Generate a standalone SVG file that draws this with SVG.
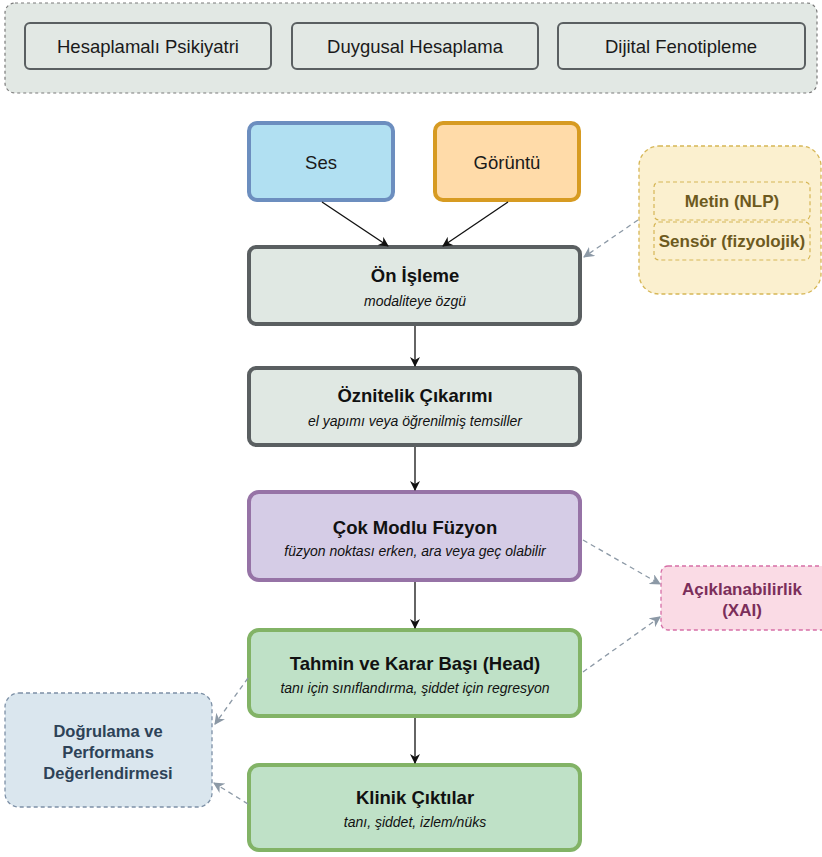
<svg xmlns="http://www.w3.org/2000/svg" width="822" height="857" viewBox="0 0 822 857">
<style>
text{font-family:"Liberation Sans",Arial,sans-serif;text-anchor:middle;dominant-baseline:central}
.t16{font-size:18.5px;fill:#1a1a1a}
.b16{font-size:18.5px;font-weight:bold;fill:#111}
.i12{font-size:14px;font-style:italic;fill:#111}
.main{stroke-width:4}
.flow{stroke:#111;stroke-width:1.3;fill:none}
.dash{stroke:#8c99a6;stroke-width:1.3;fill:none;stroke-dasharray:5 4}
.yl{font-size:17px;font-weight:bold;fill:#6d5a1e}
.pk{font-size:17px;font-weight:bold;fill:#7b2e5a}
.bl{font-size:16.5px;font-weight:bold;fill:#2d4257}
</style>
<defs>
<marker id="ab" viewBox="0 0 10 10" refX="9" refY="5" markerWidth="10" markerHeight="10" markerUnits="userSpaceOnUse" orient="auto">
<path d="M0,0 L10,5 L0,10 L3,5 Z" fill="#111"/>
</marker>
<marker id="ag" viewBox="0 0 10 10" refX="9" refY="5" markerWidth="11" markerHeight="11" markerUnits="userSpaceOnUse" orient="auto">
<path d="M0,0 L10,5 L0,10 L3,5 Z" fill="#8c99a6"/>
</marker>
</defs>

<g id="domain-group">
<rect x="5" y="3" width="812" height="90" rx="10" fill="#e2e8e4" stroke="#7a7a7a" stroke-width="1.2" stroke-dasharray="3 3"/>
</g>
<g id="n-psikiyatri"><rect x="25" y="23" width="246" height="46" rx="5" fill="#e2e8e4" stroke="#5a5f61" stroke-width="2"/><text class="t16" x="148" y="46">Hesaplamalı Psikiyatri</text></g>
<g id="n-duygusal"><rect x="292" y="23" width="246" height="46" rx="5" fill="#e2e8e4" stroke="#5a5f61" stroke-width="2"/><text class="t16" x="415" y="46">Duygusal Hesaplama</text></g>
<g id="n-dijital"><rect x="558" y="23" width="247" height="46" rx="5" fill="#e2e8e4" stroke="#5a5f61" stroke-width="2"/><text class="t16" x="681" y="46">Dijital Fenotipleme</text></g>

<g id="n-ses"><rect class="main" x="249" y="123" width="144" height="77" rx="8" fill="#b1e0f2" stroke="#6c8ebf"/><text class="t16" x="321" y="162">Ses</text></g>
<g id="n-goruntu"><rect class="main" x="435" y="123" width="144" height="77" rx="8" fill="#ffdba9" stroke="#d79b22"/><text class="t16" x="507" y="162">Görüntü</text></g>

<g id="n-diger">
<rect x="639" y="146" width="182" height="148" rx="20" fill="#fbf0cf" stroke="#d6b656" stroke-width="1.3" stroke-dasharray="4 3"/>
<rect x="654" y="182" width="156" height="38" rx="5" fill="#fbf0cf" stroke="#d6b656" stroke-width="1.2" stroke-dasharray="4 3"/>
<text class="yl" x="732" y="201">Metin (NLP)</text>
<rect x="654" y="222" width="156" height="38" rx="5" fill="#fbf0cf" stroke="#d6b656" stroke-width="1.2" stroke-dasharray="4 3"/>
<text class="yl" x="732" y="241">Sensör (fizyolojik)</text>
</g>

<g id="n-onisleme"><rect class="main" x="249" y="247" width="331" height="77" rx="7" fill="#e0e8e3" stroke="#5a5f61"/><text class="b16" x="415" y="275">Ön İşleme</text><text class="i12" x="415" y="301">modaliteye özgü</text></g>
<g id="n-oznitelik"><rect class="main" x="249" y="368" width="331" height="77" rx="7" fill="#e0e8e3" stroke="#5a5f61"/><text class="b16" x="415" y="395">Öznitelik Çıkarımı</text><text class="i12" x="415" y="421">el yapımı veya öğrenilmiş temsiller</text></g>
<g id="n-fuzyon"><rect class="main" x="249" y="492" width="331" height="88" rx="10" fill="#d5cce6" stroke="#9673a6"/><text class="b16" x="415" y="527">Çok Modlu Füzyon</text><text class="i12" x="415" y="551">füzyon noktası erken, ara veya geç olabilir</text></g>
<g id="n-tahmin"><rect class="main" x="249" y="630" width="331" height="86" rx="10" fill="#bfe1c7" stroke="#82b366"/><text class="b16" x="415" y="663">Tahmin ve Karar Başı (Head)</text><text class="i12" x="415" y="688">tanı için sınıflandırma, şiddet için regresyon</text></g>
<g id="n-klinik"><rect class="main" x="249" y="765" width="331" height="85" rx="10" fill="#bfe1c7" stroke="#82b366"/><text class="b16" x="415" y="797">Klinik Çıktılar</text><text class="i12" x="415" y="822">tanı, şiddet, izlem/nüks</text></g>

<g id="n-xai"><rect x="661" y="566" width="168" height="64" rx="7" fill="#fadbe5" stroke="#d66fa6" stroke-width="1.3" stroke-dasharray="4 3"/><text class="pk" x="742" y="589">Açıklanabilirlik</text><text class="pk" x="742" y="610">(XAI)</text></g>

<g id="n-dogrulama"><rect x="5" y="693" width="207" height="114" rx="14" fill="#dae6ee" stroke="#7d90a6" stroke-width="1.3" stroke-dasharray="4 3"/><text class="bl" x="108" y="731">Doğrulama ve</text><text class="bl" x="108" y="752">Performans</text><text class="bl" x="108" y="773">Değerlendirmesi</text></g>

<g id="connectors">
<path class="flow" d="M322,202 L388,246" marker-end="url(#ab)"/>
<path class="flow" d="M508,202 L443,246" marker-end="url(#ab)"/>
<path class="flow" d="M415,326 L415,366" marker-end="url(#ab)"/>
<path class="flow" d="M415,447 L415,490" marker-end="url(#ab)"/>
<path class="flow" d="M415,582 L415,628" marker-end="url(#ab)"/>
<path class="flow" d="M415,718 L415,763" marker-end="url(#ab)"/>
<path class="dash" d="M638,220 L584,257" marker-end="url(#ag)"/>
<path class="dash" d="M583,540 L660,584" marker-end="url(#ag)"/>
<path class="dash" d="M583,672 L660,617" marker-end="url(#ag)"/>
<path class="dash" d="M248,678 L215,724" marker-end="url(#ag)"/>
<path class="dash" d="M248,804 L214,783" marker-end="url(#ag)"/>
</g>
</svg>
